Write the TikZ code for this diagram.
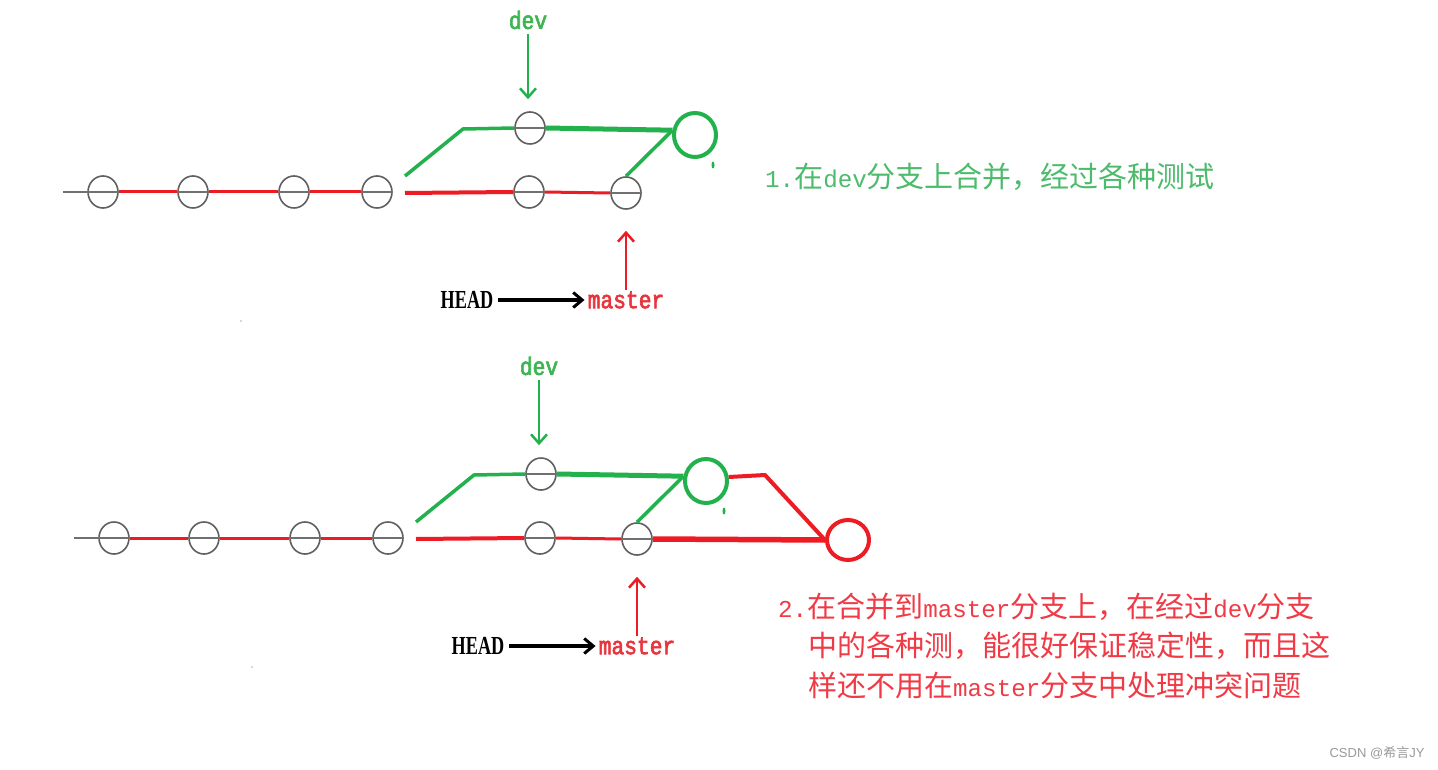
\documentclass[tikz,border=0pt]{standalone}
\usepackage{fontspec}
\usetikzlibrary{arrows.meta,shapes.geometric}
\newfontfamily\cjk{Noto Sans CJK SC}
\newfontfamily\latm{Liberation Mono}
\newfontfamily\labfont[FakeStretch=0.85,FakeBold=2.5]{Liberation Mono}
\newfontfamily\headfont[FakeStretch=0.7]{Liberation Serif Bold}
\newfontfamily\wmfont{Liberation Sans}
\definecolor{pred}{HTML}{ED1C24}
\definecolor{pgreen}{HTML}{22B14C}
\definecolor{cgray}{HTML}{606060}
\definecolor{lgray}{HTML}{707070}
\definecolor{devgreen}{HTML}{3DB552}
\definecolor{masred}{HTML}{E8343C}
\definecolor{txtgreen}{HTML}{4CBB6C}
\definecolor{txtred}{HTML}{F03A45}
\newcommand\lt[1]{{\latm\fontsize{24.2}{39}\selectfont #1}}
\tikzset{
  commit/.style={ellipse,draw=cgray,line width=1.6pt,minimum width=30pt,minimum height=32pt,inner sep=0pt},
  mergeg/.style={ellipse,draw=pgreen,line width=4pt,minimum width=42pt,minimum height=44pt,inner sep=0pt},
  merger/.style={ellipse,draw=pred,line width=4pt,minimum width=42pt,minimum height=40pt,inner sep=0pt},
  grayline/.style={draw=lgray,line width=1.6pt},
  redthin/.style={draw=pred,line width=3pt},
  redmid/.style={draw=pred,line width=4pt},
  redthick/.style={draw=pred,line width=5.5pt},
  greenline/.style={draw=pgreen,line width=3.5pt},
  greenthick/.style={draw=pgreen,line width=5pt},
  garrow/.style={draw=pgreen,line width=2.5pt,-{Straight Barb[length=9pt,width=16pt,line width=2.5pt]}},
  rarrow/.style={draw=pred,line width=2.5pt,-{Straight Barb[length=9pt,width=16pt,line width=2.5pt]}},
  karrow/.style={draw=black,line width=3.5pt,-{Straight Barb[length=9pt,width=15pt,line width=3pt]}},
  devlab/.style={text=devgreen,font=\labfont\fontsize{25}{25}\selectfont,inner sep=1pt},
  maslab/.style={text=masred,font=\labfont\fontsize{25}{25}\selectfont,inner sep=1pt},
  headlab/.style={text=black,font=\headfont\fontsize{26}{26}\selectfont,inner sep=1pt},
  txtone/.style={anchor=west,inner sep=0pt,text=txtgreen,font=\cjk\fontsize{29}{39}\selectfont},
  txttwo/.style={anchor=west,inner sep=0pt,text=txtred,font=\cjk\fontsize{29}{39}\selectfont},
  wm/.style={text=gray!80,font=\wmfont\fontsize{13}{13}\selectfont,inner sep=0pt}
}
\newcommand\branchpic{%
  \coordinate (s0) at (63,192);
  \node[commit] (c1) at (103,192) {};
  \node[commit] (c2) at (193,192) {};
  \node[commit] (c3) at (294,192) {};
  \node[commit] (c4) at (377,192) {};
  \node[commit] (c5) at (529,192) {};
  \node[commit] (c6) at (626,193) {};
  \node[commit] (d1) at (530,128) {};
  \node[mergeg] (m) at (695,135) {};
  \coordinate (g0) at (405,176);
  \coordinate (g1) at (463,129);
  \coordinate (r0) at (405,193);
  \draw[grayline] (s0) -- (c4.east);
  \draw[grayline] (c5.west) -- (c5.east);
  \draw[grayline] (c6.west) -- (c6.east);
  \draw[grayline] (d1.west) -- (d1.east);
  \draw[redthin] (c1.east) -- (c2.west);
  \draw[redthin] (c2.east) -- (c3.west);
  \draw[redthin] (c3.east) -- (c4.west);
  \draw[redmid] (r0) -- (c5.west);
  \draw[redthin] (c5.east) -- (c6.west);
  \draw[greenline] (g0) -- (g1) -- (d1.west);
  \draw[greenthick] (d1.east) -- (m.168);
  \draw[greenline] (c6.north) -- (m.168);
  \fill[pgreen] (713,165) ellipse (1.5 and 3.5);
  \node[devlab] (dl) at (528,20) {dev};
  \node[maslab] (ml) at (626,300) {master};
  \node[headlab] (hl) at (467,300) {HEAD};
  \draw[garrow,shorten <=4pt,shorten >=12pt] (dl.south) -- (dl.south |- d1.north);
  \draw[rarrow,shorten >=21pt] (ml.north) -- (ml.north |- c6.south);
  \draw[karrow,shorten <=4pt,shorten >=2pt] (hl.east) -- (ml.west);
  \fill[gray!60] (241,321) circle (0.8);
}
\begin{document}
\begin{tikzpicture}[x=1pt,y=-1pt]
\useasboundingbox (0,0) rectangle (1438,770);
\fill[white] (0,0) rectangle (1438,770);
\begin{scope}[name prefix=t-]
  \branchpic
\end{scope}
\begin{scope}[shift={(11,346)},name prefix=b-]
  \branchpic
\end{scope}
\node[merger] (rm) at (848,540) {};
\coordinate (rk) at (765,475);
\draw[redthick] (b-c6.east) -- (rm.west);
\draw[redmid,line join=round] (b-m.10) -- (rk) -- (rm.west);
\node[txtone] (n1) at (765,177) {\lt{1.}在\lt{dev}分支上合并，经过各种测试};
\node[txttwo] (n2a) at (778,607) {\lt{2.}在合并到\lt{master}分支上，在经过\lt{dev}分支};
\node[txttwo] (n2b) at (808,646) {中的各种测，能很好保证稳定性，而且这};
\node[txttwo] (n2c) at (808,685) {样还不用在\lt{master}分支中处理冲突问题};
\node[wm] (w) at (1377,753) {CSDN @{\cjk 希言}JY};
\end{tikzpicture}
\end{document}
